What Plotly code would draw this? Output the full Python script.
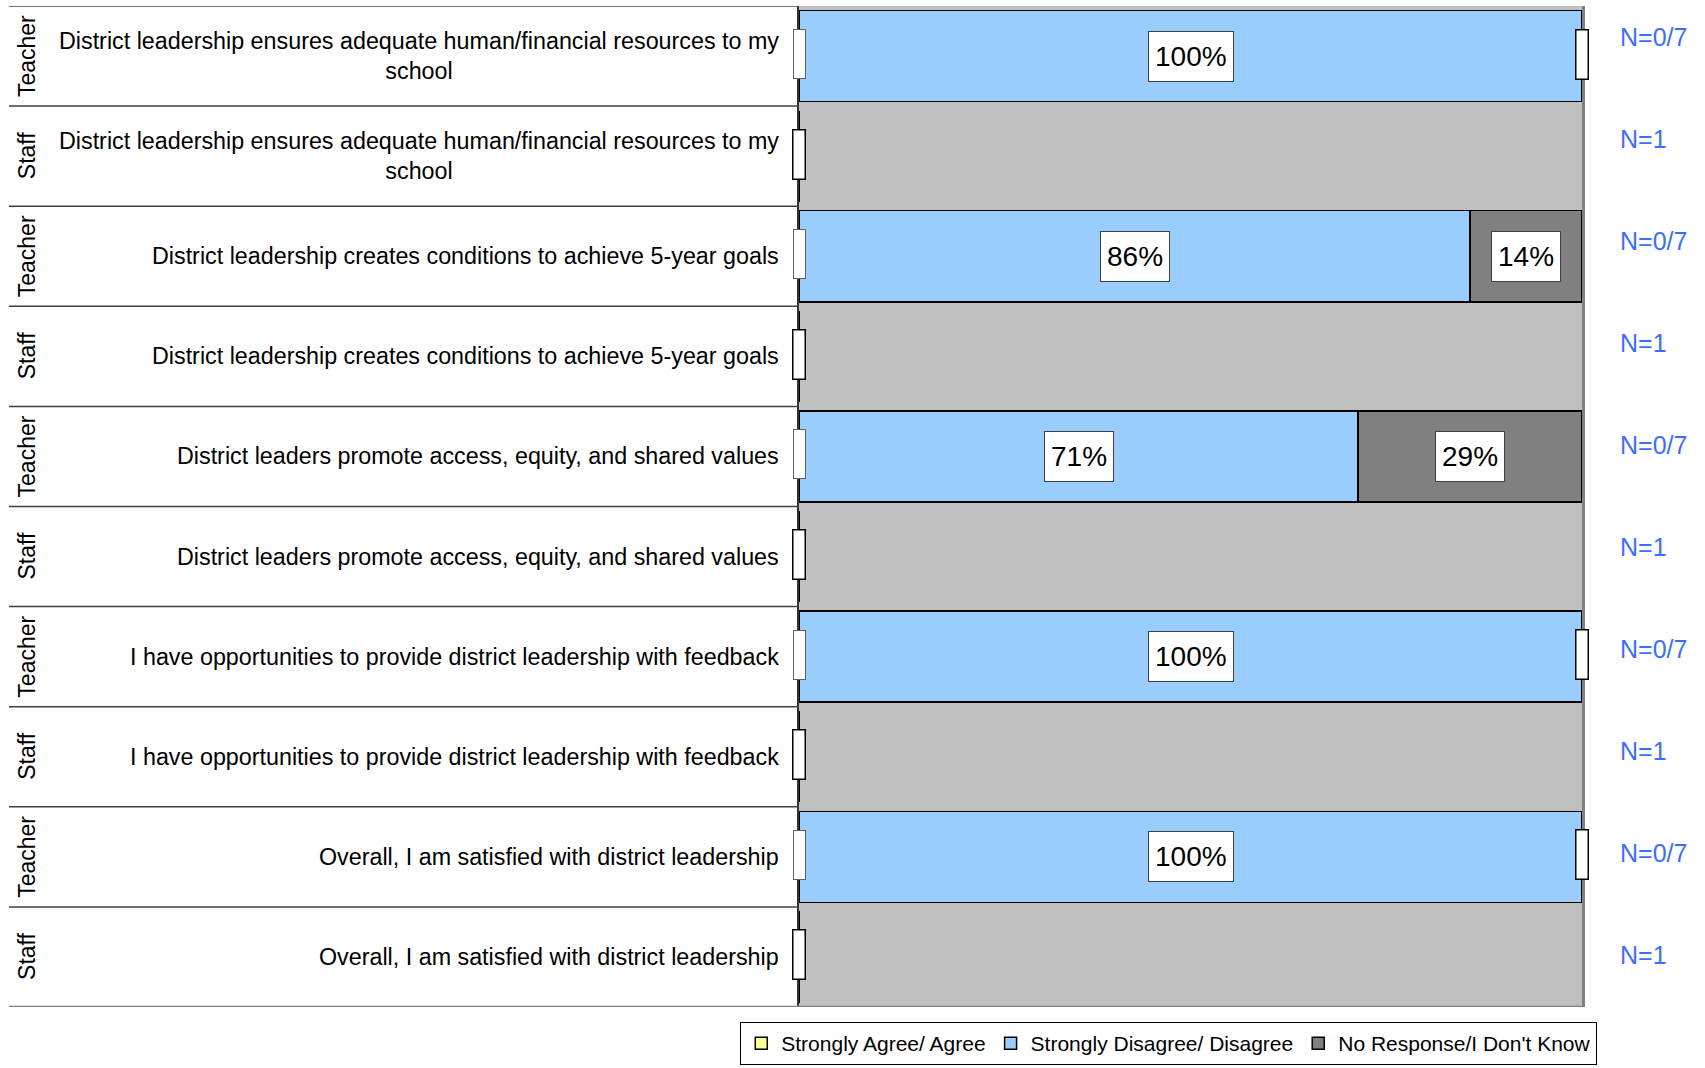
import plotly.graph_objects as go

# ---------------- data ----------------
groups = ["Teacher", "Staff", "Teacher", "Staff", "Teacher", "Staff", "Teacher", "Staff", "Teacher", "Staff"]
questions = [
    "District leadership ensures adequate human/financial resources to my<br>school",
    "District leadership ensures adequate human/financial resources to my<br>school",
    "District leadership creates conditions to achieve 5-year goals",
    "District leadership creates conditions to achieve 5-year goals",
    "District leaders promote access, equity, and shared values",
    "District leaders promote access, equity, and shared values",
    "I have opportunities to provide district leadership with feedback",
    "I have opportunities to provide district leadership with feedback",
    "Overall, I am satisfied with district leadership",
    "Overall, I am satisfied with district leadership",
]
agree = [0, 0, 0, 0, 0, 0, 0, 0, 0, 0]
disagree = [100, 0, 85.7, 0, 71.4, 0, 100, 0, 100, 0]
noresp = [0, 0, 14.3, 0, 28.6, 0, 0, 0, 0, 0]
n_labels = ["N=0/7", "N=1", "N=0/7", "N=1", "N=0/7", "N=1", "N=0/7", "N=1", "N=0/7", "N=1"]

series_names = ["Strongly Agree/ Agree", "Strongly Disagree/ Disagree", "No Response/I Don't Know"]
series_colors = ["#FFFF99", "#99CCFF", "#808080"]

FONT = "Liberation Sans, Arial, sans-serif"
rows = list(range(len(questions)))

fig = go.Figure()
all_series = [agree, disagree, noresp]
for name, color, vals in zip(series_names, series_colors, all_series):
    fig.add_trace(go.Bar(
        y=rows, x=vals, orientation="h", name=name,
        marker=dict(color=color, line=dict(color="black", width=1.5)),
        hoverinfo="skip",
    ))

annotations = []
shapes = []

# percent labels and empty label boxes (for zero values)
box_styles = [("#606060", 1), ("black", 1.5), ("black", 1.5)]
for r in rows:
    cum = 0
    for si, vals in enumerate(all_series):
        v = vals[r]
        if v > 0:
            annotations.append(dict(
                x=cum + v / 2, y=r, xref="x", yref="y",
                text=f"{v:.0f}%", showarrow=False,
                font=dict(family=FONT, size=28, color="black"),
                bgcolor="white", bordercolor="#404040", borderwidth=1,
                borderpad=6, height=37,
            ))
        else:
            lc, lw = box_styles[si]
            annotations.append(dict(
                x=cum, y=r, xref="x", yref="y", xanchor="center", yanchor="middle",
                yshift=2, text=" ", showarrow=False, width=11, height=48,
                font=dict(family=FONT, size=10),
                bgcolor="white", bordercolor=lc, borderwidth=lw, borderpad=0,
            ))
        cum += v

# category labels on the left
for r in rows:
    annotations.append(dict(
        x=0, y=r, xref="paper", yref="y", xanchor="right", yanchor="middle",
        xshift=-18, text=questions[r], showarrow=False, align="center",
        font=dict(family=FONT, size=23.3, color="black"),
    ))
    annotations.append(dict(
        x=0, y=r, xref="paper", yref="y", xanchor="center", yanchor="middle",
        xshift=-772, text=groups[r], showarrow=False, textangle=-90,
        font=dict(family=FONT, size=23, color="black"),
    ))
    annotations.append(dict(
        x=1, y=r, xref="paper", yref="y2", xanchor="left", yanchor="middle",
        xshift=36, text=n_labels[r], showarrow=False,
        font=dict(family=FONT, size=25, color="#3D6EFF"),
    ))

# row separators on the left
for r in rows:
    shapes.append(dict(type="line", xref="paper", yref="y", x0=-1.009, x1=0,
                       y0=r - 0.5, y1=r - 0.5, line=dict(color="#404040", width=1.5)))
shapes.append(dict(type="line", xref="paper", yref="y", x0=-1.009, x1=1,
                   y0=len(rows) - 0.5, y1=len(rows) - 0.5, line=dict(color="#808080", width=2.5)))

fig.update_layout(
    width=1705, height=1068,
    margin=dict(l=799, r=123, t=6, b=61, autoexpand=False),
    barmode="stack", bargap=0.09,
    plot_bgcolor="#C0C0C0", paper_bgcolor="white",
    font=dict(family=FONT, color="black"),
    xaxis=dict(range=[0, 100], showgrid=False, zeroline=False, showticklabels=False,
               ticks="", fixedrange=True),
    yaxis=dict(range=[len(rows) - 0.5, -0.5], showgrid=False, zeroline=False,
               showticklabels=False, ticks="", showline=True, linecolor="#333333", linewidth=1.5),
    yaxis2=dict(overlaying="y", side="right", range=[9.513, -0.304], showgrid=False,
                zeroline=False, showticklabels=False, ticks="", showline=True,
                linecolor="#808080", linewidth=2.5),
    legend=dict(orientation="h", x=-0.075, xanchor="left", y=-0.015, yanchor="top",
                bordercolor="black", borderwidth=1, bgcolor="white",
                font=dict(family=FONT, size=21, color="black"), traceorder="normal"),
    annotations=annotations, shapes=shapes,
)

fig.write_html("out.html", config={"displayModeBar": False},
               post_script="document.body.style.margin='0';")
